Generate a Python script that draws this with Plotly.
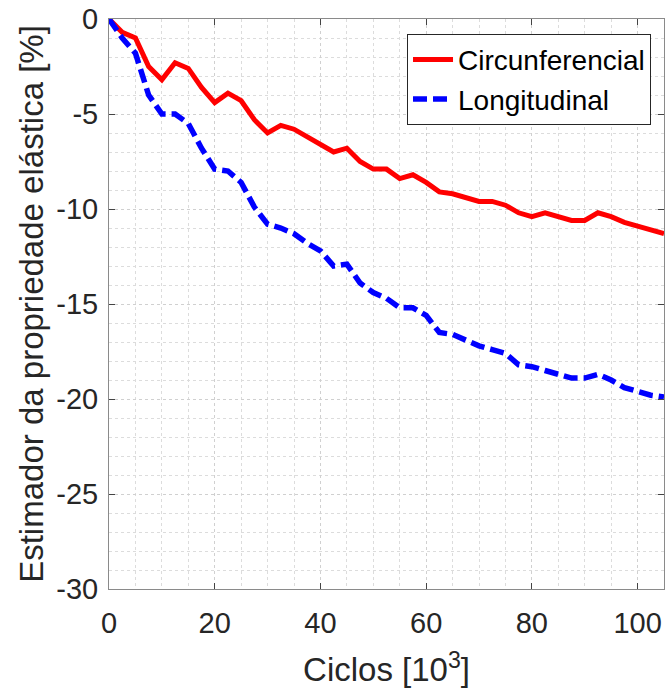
import plotly.graph_objects as go

ciclos = [0, 2.5, 5, 7.5, 10, 12.5, 15, 17.5, 20, 22.5, 25, 27.5, 30, 32.5, 35, 37.5,
          40, 42.5, 45, 47.5, 50, 52.5, 55, 57.5, 60, 62.5, 65, 67.5, 70, 72.5, 75,
          77.5, 80, 82.5, 85, 87.5, 90, 92.5, 95, 97.5, 100, 102.5, 105]

circunferencial = [0, -0.7, -1.0, -2.5, -3.2, -2.3, -2.6, -3.6, -4.4, -3.9, -4.3, -5.3,
                   -6.0, -5.6, -5.8, -6.2, -6.6, -7.0, -6.8, -7.5, -7.9, -7.9, -8.4,
                   -8.2, -8.6, -9.1, -9.2, -9.4, -9.6, -9.6, -9.8, -10.2, -10.4, -10.2,
                   -10.4, -10.6, -10.6, -10.2, -10.4, -10.7, -10.9, -11.1, -11.3]

longitudinal = [0, -1.0, -1.8, -4.0, -5.0, -5.0, -5.5, -6.8, -7.9, -8.0, -8.6, -9.9,
                -10.8, -11.0, -11.3, -11.8, -12.2, -13.0, -12.9, -13.9, -14.4, -14.7,
                -15.2, -15.2, -15.6, -16.5, -16.6, -16.9, -17.2, -17.4, -17.6, -18.2,
                -18.3, -18.5, -18.7, -18.9, -18.9, -18.7, -19.0, -19.4, -19.6, -19.8, -19.9]

x_ticks = [0, 20, 40, 60, 80, 100]
x_ticktext = ["0", "20", "40", "60", "80", "100"]
y_ticks = [0, -5, -10, -15, -20, -25, -30]
y_ticktext = ["0", "-5", "-10", "-15", "-20", "-25", "-30"]

FONT = "Liberation Sans, Arial, sans-serif"

fig = go.Figure()
fig.add_trace(go.Scatter(x=ciclos, y=circunferencial, mode="lines", name="Circunferencial",
                         line=dict(color="#ff0000", width=5)))
fig.add_trace(go.Scatter(x=ciclos, y=longitudinal, mode="lines", name="Longitudinal",
                         line=dict(color="#0000ff", width=5.5, dash="14px,6px")))

axis_common = dict(
    showline=True, linecolor="#8a8a8a", linewidth=1, mirror="allticks",
    ticks="inside", ticklen=6, tickcolor="#444444", tickwidth=1,
    showgrid=True, gridcolor="#d0d0d0", griddash="dot", gridwidth=1,
    zeroline=False,
    tickfont=dict(family=FONT, size=29, color="#262626"),
)

fig.update_layout(
    width=667, height=693,
    margin=dict(l=109, r=3, t=19, b=104),
    paper_bgcolor="white", plot_bgcolor="white",
    font=dict(family=FONT, color="#262626"),
    xaxis=dict(range=[0, 105], tickvals=x_ticks, ticktext=x_ticktext,
               title=dict(text="Ciclos [10<sup>3</sup>]", font=dict(family=FONT, size=33, color="#262626"), standoff=20),
               minor=dict(dtick=5, tick0=0, showgrid=True, gridcolor="#dcdcdc", griddash="dot", ticks=""),
               ticklabelstandoff=8,
               **axis_common),
    yaxis=dict(range=[-30, 0], tickvals=y_ticks, ticktext=y_ticktext,
               title=dict(text="Estimador da propriedade elástica [%]", font=dict(family=FONT, size=33, color="#262626"), standoff=2),
               minor=dict(dtick=1, tick0=0, showgrid=True, gridcolor="#dcdcdc", griddash="dot", ticks=""),
               ticklabelstandoff=4,
               **axis_common),
    legend=dict(x=0.9766, y=0.974, xanchor="right", yanchor="top",
                bgcolor="white", bordercolor="#262626", borderwidth=1,
                font=dict(family=FONT, size=28, color="#000000"),
                itemwidth=40, tracegroupgap=0),
    showlegend=True,
)

fig.write_html("out.html")
